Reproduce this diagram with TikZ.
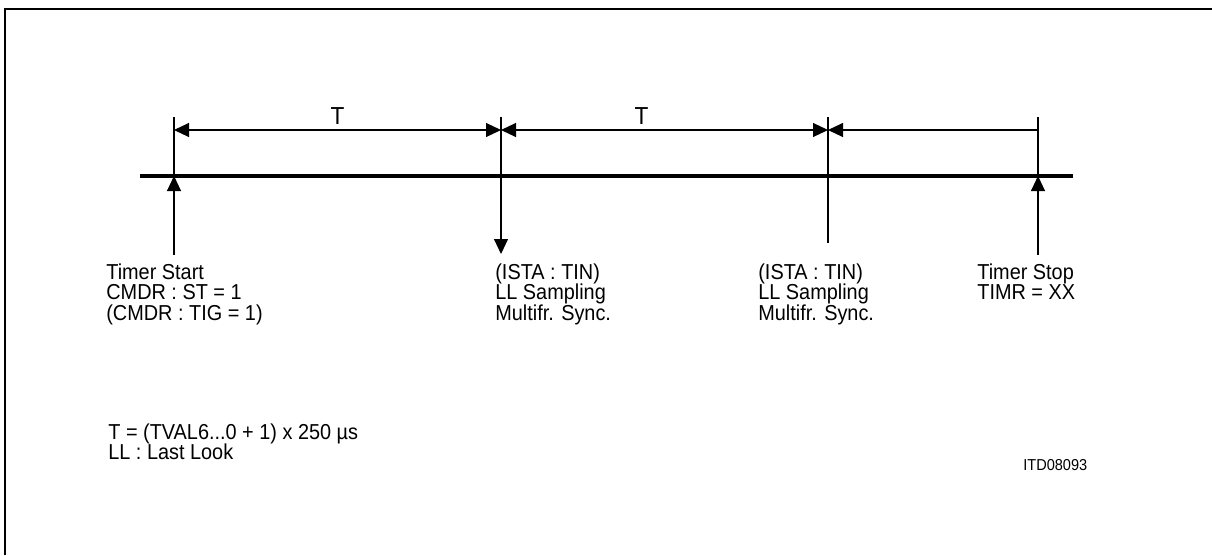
\documentclass[tikz,border=0pt]{standalone}
\usepackage{fontspec}
\setmainfont{Liberation Sans}[FakeStretch=0.92]
\usetikzlibrary{arrows.meta}

\begin{document}
\begin{tikzpicture}[
        x=0.02cm, y=-0.02cm,
        font=\fontsize{12.3}{11.7}\selectfont,
        >={Triangle[length=0.3cm, width=0.28cm]},
        frame/.style={line width=1.7pt},
        axis/.style={line width=2.3pt},
        tick/.style={line width=0.6pt},
        dim/.style={line width=0.6pt},
        per/.style={above, inner sep=3pt, font=\fontsize{14}{14}\selectfont},
        lbl/.style={anchor=north west, inner sep=0pt, align=left},
      ]
        \useasboundingbox (0,0) rectangle (1212,555);
        \draw[frame] (5,555) -- (5,9) -- (1212,9);
        % time axis and events
        \coordinate (ax0) at (140,176);
        \coordinate (ax1) at (1073,176);
        \coordinate (e1) at (174,176);
        \coordinate (e4) at (1038,176);
        \coordinate (t1) at (174,117);
        \coordinate (t2) at (501,117);
        \coordinate (t3) at (828,117);
        \coordinate (t4) at (1038,117);
        \coordinate (b1) at (174,255);
        \coordinate (b2) at (501,254);
        \coordinate (b3) at (828,243);
        \coordinate (b4) at (1038,255);
        \draw[axis] (ax0) -- (ax1);
        \draw[tick] (t1) -- (e1);
        \draw[tick, ->] (b1) -- (e1);
        \draw[tick, ->] (t2) -- (b2);
        \draw[tick] (t3) -- (b3);
        \draw[tick] (t4) -- (e4);
        \draw[tick, ->] (b4) -- (e4);
        % dimension line
        \coordinate (d1) at (174,130);
        \coordinate (d2) at (501,130);
        \coordinate (d3) at (828,130);
        \coordinate (d4) at (1038,130);
        \draw[dim, <->] (d1) -- node[per] (per1) {T} (d2);
        \draw[dim, <->] (d2) -- node[per, pos=0.43] (per2) {T} (d3);
        \draw[dim, <-] (d3) -- (d4);
        % labels
        \node[lbl] (start) at (106,263) {Timer Start\\CMDR : ST = 1\\(CMDR : TIG = 1)};
        \node[lbl] (samp1) at (495,263) {(ISTA : TIN)\\LL Sampling\\Multifr. Sync.};
        \node[lbl] (samp2) at (758,263) {(ISTA : TIN)\\LL Sampling\\Multifr. Sync.};
        \node[lbl] (stop) at (977,263) {Timer Stop\\TIMR = XX};
        \node[lbl] (legend) at (108,423) {T = (TVAL6...0 + 1) x 250 µs\\LL : Last Look};
        \node[anchor=west, inner sep=0pt, font=\fontsize{9}{10}\selectfont] (figid) at (1023,465) {ITD08093};
      \end{tikzpicture}
\end{document}
